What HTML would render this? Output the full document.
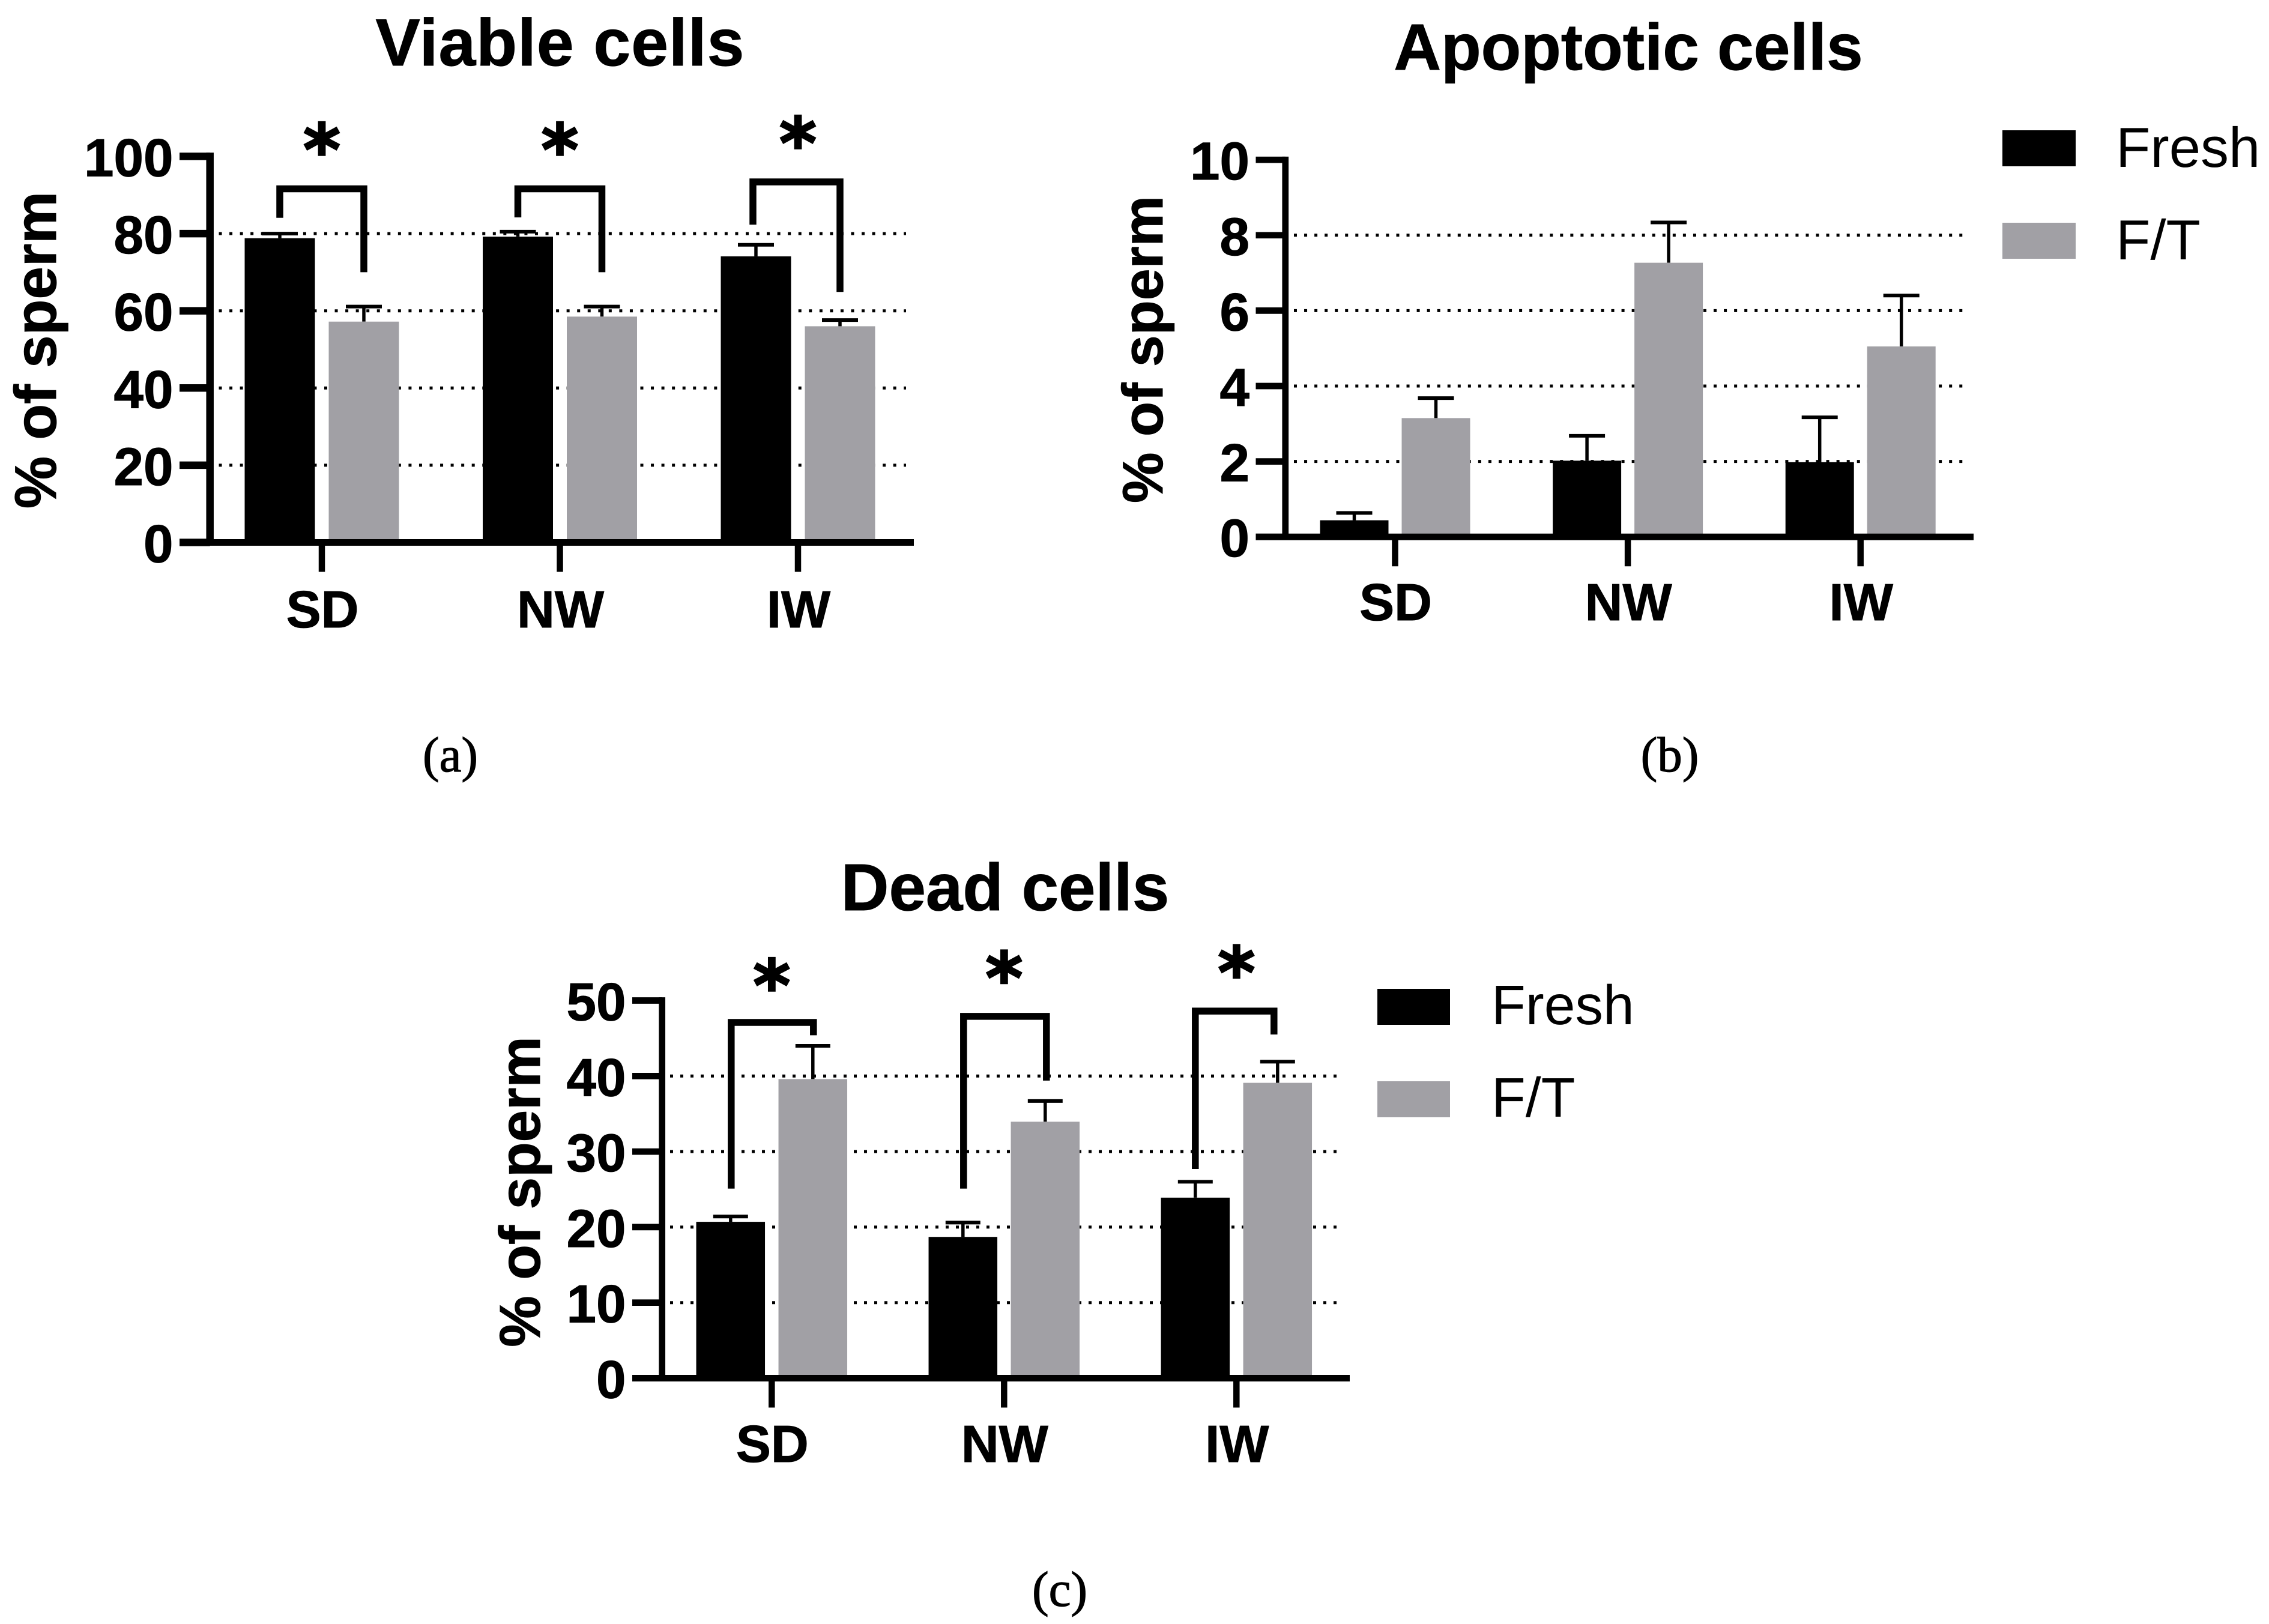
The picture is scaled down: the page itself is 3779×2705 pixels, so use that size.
<!DOCTYPE html>
<html>
<head>
<meta charset="utf-8">
<title>Sperm viability charts</title>
<style>
html,body{margin:0;padding:0;background:#fff;width:3779px;height:2705px;overflow:hidden}
svg{display:block;position:absolute;left:0;top:0}
text{font-family:"Liberation Sans",Arial,sans-serif;fill:#000;text-rendering:geometricPrecision}
</style>
</head>
<body>
<svg id="figure" xmlns="http://www.w3.org/2000/svg" width="3779" height="2705" viewBox="0 0 3779 2705"></svg>
<script>
// ---- shared labels ----
const categories = ['SD', 'NW', 'IW'];
const seriesNames = ['Fresh', 'F/T'];

// ---- panel (a) viable cells ----
const viableFresh = [78.8, 79.2, 74.1];
const viableFreshErr = [80.0, 80.5, 77.1];
const viableThawed = [57.2, 58.5, 56.0];
const viableThawedErr = [61.1, 61.1, 57.6];
const viableTicks = [0, 20, 40, 60, 80, 100];
const viableGrid = [20, 40, 60, 80];
const viableBracketTop = [91.6, 91.6, 93.4];
const viableBracketLeftEnd = [84.1, 84.2, 82.3];
const viableBracketRightEnd = [70.0, 70.0, 64.9];
const viableStarLevel = [104.3, 104.3, 106.0];

// ---- panel (b) apoptotic cells ----
const apoptoticFresh = [0.44, 2.02, 1.98];
const apoptoticFreshErr = [0.635, 2.68, 3.17];
const apoptoticThawed = [3.15, 7.27, 5.05];
const apoptoticThawedErr = [3.68, 8.34, 6.40];
const apoptoticTicks = [0, 2, 4, 6, 8, 10];
const apoptoticGrid = [2, 4, 6, 8];

// ---- panel (c) dead cells ----
const deadFresh = [20.7, 18.7, 23.9];
const deadFreshErr = [21.4, 20.6, 26.0];
const deadThawed = [39.6, 33.95, 39.1];
const deadThawedErr = [44.0, 36.7, 41.9];
const deadTicks = [0, 10, 20, 30, 40, 50];
const deadGrid = [10, 20, 30, 40];
const deadBracketTop = [47.1, 47.9, 48.6];
const deadBracketLeftEnd = [25.1, 25.1, 27.7];
const deadBracketRightEnd = [45.4, 39.4, 45.5];
const deadStarLevel = [53.3, 54.3, 55.0];

const NS = 'http://www.w3.org/2000/svg';
const root = document.getElementById('figure');
const GREY = '#a1a0a5';

function add(parent, tag, name, attrs, txt) {
  const el = document.createElementNS(NS, tag);
  for (const k in attrs) el.setAttribute(k, attrs[k]);
  
  
  if (txt !== undefined) el.textContent = txt;
  parent.appendChild(el);
  return el;
}

function drawPanel(p) {
  const g = add(root, 'g', p.key + '-panel', {});
  const y = v => p.y0 - v * p.perUnit;
  const xGroup = i => p.x0 + i * p.dx;
  const xBar = (i, s) => xGroup(i) + (s === 0 ? -p.offset : p.offset);
  const boldStroke = {stroke: '#000', 'stroke-width': 1};

  add(g, 'text', p.key + '-title', Object.assign({x: p.titleX, y: p.titleY, 'text-anchor': 'middle', 'font-size': p.titleSize, 'font-weight': 700, 'letter-spacing': p.titleSpacing}, boldStroke), p.title);
  add(g, 'text', p.key + '-y-axis-title', Object.assign({transform: 'translate(' + p.ylabelX + ',' + p.ylabelY + ') rotate(-90)', 'text-anchor': 'middle', 'font-size': p.ylabelSize, 'font-weight': 700}, boldStroke), '% of sperm');

  // gridlines
  p.grid.forEach(v => {
    add(g, 'line', p.key + '-gridline-' + v, {x1: p.gridStart, x2: p.gridEnd, y1: y(v), y2: y(v), stroke: '#000', 'stroke-width': 5, 'stroke-dasharray': '5 ' + p.dashGap});
  });

  // bars + error bars
  const series = [[p.fresh, p.freshErr, '#000', 'fresh'], [p.thawed, p.thawedErr, GREY, 'ft']];
  series.forEach((s, si) => {
    categories.forEach((c, i) => {
      const cx = xBar(i, si);
      add(g, 'line', p.key + '-error-stem-' + s[3] + '-' + c, {x1: cx, x2: cx, y1: y(s[0][i]), y2: y(s[1][i]), stroke: '#000', 'stroke-width': 5.5});
      add(g, 'line', p.key + '-error-cap-' + s[3] + '-' + c, {x1: cx - p.cap, x2: cx + p.cap, y1: y(s[1][i]), y2: y(s[1][i]), stroke: '#000', 'stroke-width': 6});
      add(g, 'rect', p.key + '-bar-' + s[3] + '-' + c, {x: cx - p.barW / 2, y: y(s[0][i]), width: p.barW, height: p.y0 - y(s[0][i]), fill: s[2]});
    });
  });

  // axes
  add(g, 'line', p.key + '-y-axis', {x1: p.axisX, x2: p.axisX, y1: y(p.ticks[p.ticks.length - 1]) - p.axisW / 2, y2: p.y0 + 5, stroke: '#000', 'stroke-width': p.axisW});
  p.ticks.forEach(v => {
    add(g, 'line', p.key + '-y-tick-' + v, {x1: p.tickLeft, x2: p.axisX, y1: y(v), y2: y(v), stroke: '#000', 'stroke-width': p.axisW});
    add(g, 'text', p.key + '-y-tick-label-' + v, Object.assign({x: p.tickLeft - 10.5, y: y(v) + 33, 'text-anchor': 'end', 'font-size': 89, 'font-weight': 700}, boldStroke), String(v));
  });
  add(g, 'line', p.key + '-x-axis', {x1: p.tickLeft, x2: p.axisEnd, y1: p.y0, y2: p.y0, stroke: '#000', 'stroke-width': 11});
  categories.forEach((c, i) => {
    add(g, 'line', p.key + '-x-tick-' + c, {x1: xGroup(i), x2: xGroup(i), y1: p.y0, y2: p.y0 + 49, stroke: '#000', 'stroke-width': 10.5});
    add(g, 'text', p.key + '-x-tick-label-' + c, Object.assign({x: xGroup(i) + 1, y: p.catY, 'text-anchor': 'middle', 'font-size': 87, 'font-weight': 700}, boldStroke), c);
  });

  // significance brackets
  if (p.bTop) {
    categories.forEach((c, i) => {
      const xl = xBar(i, 0) + p.nudgeL[i];
      const xr = xBar(i, 1) + p.nudgeR[i];
      const pts = [xl, y(p.bLeft[i]), xl, y(p.bTop[i]), xr, y(p.bTop[i]), xr, y(p.bRight[i])].join(' ');
      add(g, 'polyline', p.key + '-significance-bracket-' + c, {points: pts, fill: 'none', stroke: '#000', 'stroke-width': 11.5, 'stroke-linejoin': 'miter'});
      const star = add(g, 'text', p.key + '-significance-star-' + c, {x: xGroup(i), y: y(p.star[i]) + 58, 'text-anchor': 'middle', 'font-size': 118, 'font-weight': 700, stroke: '#000', 'stroke-width': 3}, '*');
      star.style.fontFamily = '"DejaVu Sans",sans-serif';
    });
  }

  // legend
  if (p.legend) {
    const L = p.legend;
    seriesNames.forEach((n, i) => {
      add(g, 'rect', p.key + '-legend-swatch-' + i, {x: L.x, y: L.ys[i], width: L.w, height: 60, fill: i === 0 ? '#000' : GREY});
      add(g, 'text', p.key + '-legend-label-' + i, {x: L.tx, y: L.ys[i] + L.by, 'font-size': L.size}, n);
    });
  }

  // caption
  const cap = add(g, 'text', p.key + '-panel-caption', {x: p.capX, y: p.capY, 'text-anchor': 'middle', 'font-size': 83, stroke: '#000', 'stroke-width': 1.2}, p.caption);
  cap.style.fontFamily = '"Liberation Serif",serif';
}

drawPanel({
  key: 'viable', title: 'Viable cells', caption: '(a)',
  fresh: viableFresh, freshErr: viableFreshErr, thawed: viableThawed, thawedErr: viableThawedErr,
  ticks: viableTicks, grid: viableGrid,
  bTop: viableBracketTop, bLeft: viableBracketLeftEnd, bRight: viableBracketRightEnd, star: viableStarLevel,
  nudgeL: [0, 0, -5], nudgeR: [0, 0, 0],
  y0: 903.5, perUnit: 6.43, x0: 536, dx: 396.5, offset: 70, barW: 117, cap: 30,
  axisX: 349.7, axisW: 12.5, tickLeft: 299, axisEnd: 1522, gridStart: 364.5, gridEnd: 1509, dashGap: 12.55,
  titleX: 933, titleY: 109, titleSize: 111, titleSpacing: 1,
  ylabelX: 93, ylabelY: 583, ylabelSize: 98, catY: 1045, capX: 750, capY: 1285
});
drawPanel({
  key: 'apoptotic', title: 'Apoptotic cells', caption: '(b)',
  fresh: apoptoticFresh, freshErr: apoptoticFreshErr, thawed: apoptoticThawed, thawedErr: apoptoticThawedErr,
  ticks: apoptoticTicks, grid: apoptoticGrid,
  y0: 894.2, perUnit: 62.8, x0: 2323.5, dx: 387.6, offset: 68, barW: 114, cap: 30,
  axisX: 2140.8, axisW: 10.7, tickLeft: 2091.5, axisEnd: 3287, gridStart: 2155, gridEnd: 3275, dashGap: 12.05,
  titleX: 2712, titleY: 116, titleSize: 109, titleSpacing: 0,
  ylabelX: 1936, ylabelY: 582, ylabelSize: 95, catY: 1033, capX: 2781, capY: 1285,
  legend: {x: 3335, w: 122, ys: [217, 371], tx: 3524, by: 61, size: 94}
});
drawPanel({
  key: 'dead', title: 'Dead cells', caption: '(c)',
  fresh: deadFresh, freshErr: deadFreshErr, thawed: deadThawed, thawedErr: deadThawedErr,
  ticks: deadTicks, grid: deadGrid,
  bTop: deadBracketTop, bLeft: deadBracketLeftEnd, bRight: deadBracketRightEnd, star: deadStarLevel,
  nudgeL: [1, 1, 0], nudgeR: [1, 2, -6],
  y0: 2295.5, perUnit: 12.58, x0: 1285.3, dx: 387, offset: 68.5, barW: 114.5, cap: 29,
  axisX: 1102.7, axisW: 10.7, tickLeft: 1053, axisEnd: 2248, gridStart: 1116, gridEnd: 2237, dashGap: 12,
  titleX: 1674, titleY: 1516, titleSize: 110.5, titleSpacing: 0,
  ylabelX: 899, ylabelY: 1985, ylabelSize: 96, catY: 2435, capX: 1765, capY: 2675,
  legend: {x: 2294, w: 121, ys: [1647, 1801], tx: 2484, by: 59, size: 93}
});
</script>
</body>
</html>
